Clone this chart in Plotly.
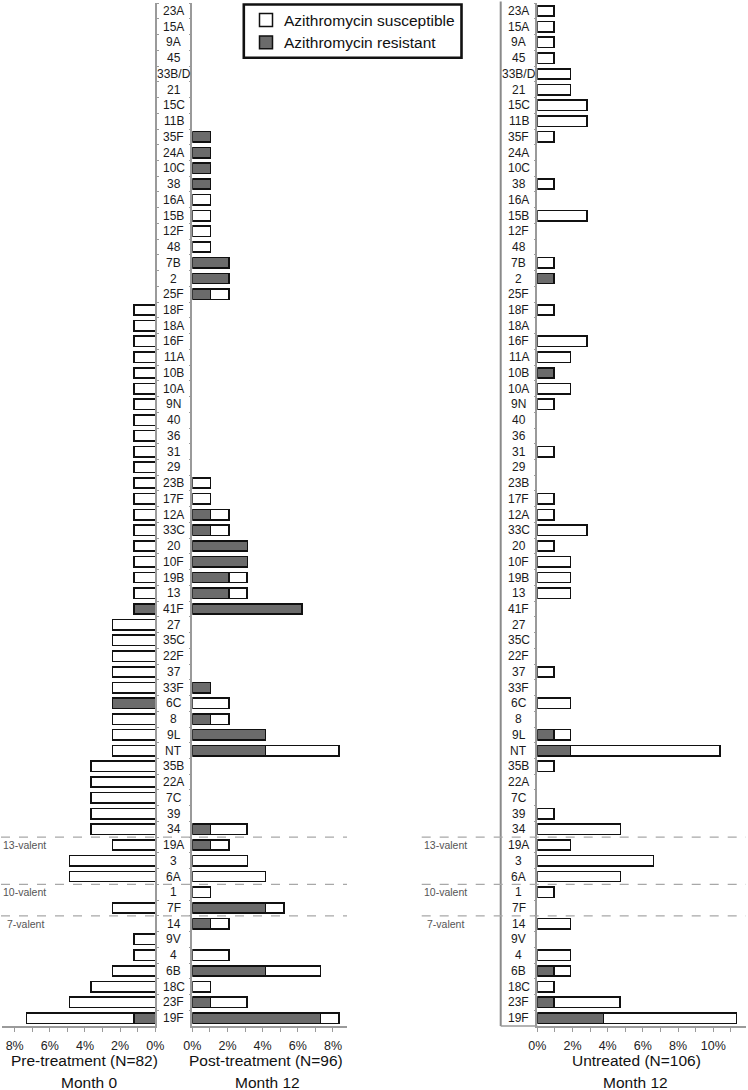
import plotly.graph_objects as go

# ---------------- data ----------------
categories = ["23A", "15A", "9A", "45", "33B/D", "21", "15C", "11B", "35F", "24A",
              "10C", "38", "16A", "15B", "12F", "48", "7B", "2", "25F", "18F",
              "18A", "16F", "11A", "10B", "10A", "9N", "40", "36", "31", "29",
              "23B", "17F", "12A", "33C", "20", "10F", "19B", "13", "41F", "27",
              "35C", "22F", "37", "33F", "6C", "8", "9L", "NT", "35B", "22A",
              "7C", "39", "34", "19A", "3", "6A", "1", "7F", "14", "9V",
              "4", "6B", "18C", "23F", "19F"]

# Pre-treatment, Month 0 (N=82), % of isolates
pre_resistant = [0, 0, 0, 0, 0, 0, 0, 0, 0, 0,
                 0, 0, 0, 0, 0, 0, 0, 0, 0, 0,
                 0, 0, 0, 0, 0, 0, 0, 0, 0, 0,
                 0, 0, 0, 0, 0, 0, 0, 0, 1.22, 0,
                 0, 0, 0, 0, 2.44, 0, 0, 0, 0, 0,
                 0, 0, 0, 0, 0, 0, 0, 0, 0, 0,
                 0, 0, 0, 0, 1.22]
pre_susceptible = [0, 0, 0, 0, 0, 0, 0, 0, 0, 0,
                   0, 0, 0, 0, 0, 0, 0, 0, 0, 1.22,
                   1.22, 1.22, 1.22, 1.22, 1.22, 1.22, 1.22, 1.22, 1.22, 1.22,
                   1.22, 1.22, 1.22, 1.22, 1.22, 1.22, 1.22, 1.22, 0, 2.44,
                   2.44, 2.44, 2.44, 2.44, 0, 2.44, 2.44, 2.44, 3.66, 3.66,
                   3.66, 3.66, 3.66, 2.44, 4.88, 4.88, 0, 2.44, 0, 1.22,
                   1.22, 2.44, 3.66, 4.88, 6.10]

# Post-treatment, Month 12 (N=96)
post_resistant = [0, 0, 0, 0, 0, 0, 0, 0, 1.04, 1.04,
                  1.04, 1.04, 0, 0, 0, 0, 2.08, 2.08, 1.04, 0,
                  0, 0, 0, 0, 0, 0, 0, 0, 0, 0,
                  0, 0, 1.04, 1.04, 3.13, 3.13, 2.08, 2.08, 6.25, 0,
                  0, 0, 0, 1.04, 0, 1.04, 4.17, 4.17, 0, 0,
                  0, 0, 1.04, 1.04, 0, 0, 0, 4.17, 1.04, 0,
                  0, 4.17, 0, 1.04, 7.29]
post_susceptible = [0, 0, 0, 0, 0, 0, 0, 0, 0, 0,
                    0, 0, 1.04, 1.04, 1.04, 1.04, 0, 0, 1.04, 0,
                    0, 0, 0, 0, 0, 0, 0, 0, 0, 0,
                    1.04, 1.04, 1.04, 1.04, 0, 0, 1.04, 1.04, 0, 0,
                    0, 0, 0, 0, 2.08, 1.04, 0, 4.17, 0, 0,
                    0, 0, 2.08, 1.04, 3.13, 4.17, 1.04, 1.04, 1.04, 0,
                    2.08, 3.13, 1.04, 2.08, 1.04]

# Untreated, Month 12 (N=106)
untreated_resistant = [0, 0, 0, 0, 0, 0, 0, 0, 0, 0,
                       0, 0, 0, 0, 0, 0, 0, 0.94, 0, 0,
                       0, 0, 0, 0.94, 0, 0, 0, 0, 0, 0,
                       0, 0, 0, 0, 0, 0, 0, 0, 0, 0,
                       0, 0, 0, 0, 0, 0, 0.94, 1.89, 0, 0,
                       0, 0, 0, 0, 0, 0, 0, 0, 0, 0,
                       0, 0.94, 0, 0.94, 3.77]
untreated_susceptible = [0.94, 0.94, 0.94, 0.94, 1.89, 1.89, 2.83, 2.83, 0.94, 0,
                         0, 0.94, 0, 2.83, 0, 0, 0.94, 0, 0, 0.94,
                         0, 2.83, 1.89, 0, 1.89, 0.94, 0, 0, 0.94, 0,
                         0, 0.94, 0.94, 2.83, 0.94, 1.89, 1.89, 1.89, 0, 0,
                         0, 0, 0.94, 0, 1.89, 0, 0.94, 8.49, 0.94, 0,
                         0, 0.94, 4.72, 1.89, 6.60, 4.72, 0.94, 0, 1.89, 0,
                         1.89, 0.94, 0.94, 3.77, 7.55]

tick_vals_8 = [0, 2, 4, 6, 8]
tick_text_8 = ["0%", "2%", "4%", "6%", "8%"]
tick_vals_10 = [0, 2, 4, 6, 8, 10]
tick_text_10 = ["0%", "2%", "4%", "6%", "8%", "10%"]
minor_vals = [1, 3, 5, 7, 9, 11]

legend_labels = ["Azithromycin susceptible", "Azithromycin resistant"]

valency_labels = ["13-valent", "10-valent", "7-valent"]
valency_first_serotype = ["19A", "1", "14"]

panel_titles = ["Pre-treatment (N=82)", "Post-treatment (N=96)", "Untreated (N=106)"]
panel_months = ["Month 0", "Month 12", "Month 12"]

# ---------------- layout helpers ----------------
W, H = 748, 1090
FONT = "Arial, Liberation Sans, sans-serif"
RES_COLOR = "#6b6b6b"
SUS_COLOR = "#ffffff"
AX_COLOR = "#9a9a9a"
EDGE = "#111111"


def px(x):
    return x / W


def py(y):
    return 1 - y / H


Y_TOP, Y_BOT = 3.1, 1026.0
ydom = [py(Y_BOT), py(Y_TOP)]
n = len(categories)


def nz(vals):
    return [v if v else None for v in vals]


fig = go.Figure()

panels = [
    ("x", "y", pre_resistant, pre_susceptible),
    ("x2", "y2", post_resistant, post_susceptible),
    ("x3", "y3", untreated_resistant, untreated_susceptible),
]
for xa, ya, res, sus in panels:
    fig.add_trace(go.Bar(
        y=categories, x=nz(res), orientation="h", xaxis=xa, yaxis=ya,
        name=legend_labels[1], showlegend=False,
        marker=dict(color=RES_COLOR, line=dict(color=EDGE, width=1.6)),
        hoverinfo="x+y",
    ))
    fig.add_trace(go.Bar(
        y=categories, x=nz(sus), orientation="h", xaxis=xa, yaxis=ya,
        name=legend_labels[0], showlegend=False,
        marker=dict(color=SUS_COLOR, line=dict(color=EDGE, width=1.6)),
        hoverinfo="x+y",
    ))

xcommon = dict(
    showgrid=False, zeroline=False, showline=True, linecolor=AX_COLOR, linewidth=1.5,
    ticks="outside", ticklen=4, tickcolor=AX_COLOR, tickwidth=1,
    tickfont=dict(family=FONT, size=12.5, color="#222222"),
    ticklabelstandoff=3, automargin=False,
    fixedrange=True,
)
ycommon = dict(
    type="category", categoryorder="array", categoryarray=categories,
    range=[n - 0.5, -0.5], domain=ydom, showgrid=False, zeroline=False,
    showline=True, linecolor=AX_COLOR, linewidth=1.5, showticklabels=False,
    ticks="outside", ticklen=2, tickcolor=AX_COLOR, tickson="boundaries",
    automargin=False, fixedrange=True,
)
minor = dict(tickvals=minor_vals, ticks="outside", ticklen=4, tickcolor=AX_COLOR)

fig.update_layout(
    width=W, height=H, autosize=False,
    margin=dict(l=0, r=0, t=0, b=0, pad=0, autoexpand=False),
    paper_bgcolor="white", plot_bgcolor="white",
    barmode="stack", bargap=0.34,
    font=dict(family=FONT, color="#222222"),
    showlegend=False,
    xaxis=dict(domain=[px(2), px(155.3)], range=[8.72, 0], anchor="y",
               tickvals=tick_vals_8, ticktext=tick_text_8, minor=minor, **xcommon),
    xaxis2=dict(domain=[px(192.3), px(346.7)], range=[0, 8.78], anchor="y2",
                tickvals=tick_vals_8, ticktext=tick_text_8, minor=minor, **xcommon),
    xaxis3=dict(domain=[px(537.3), px(746)], range=[0, 11.86], anchor="y3",
                tickvals=tick_vals_10, ticktext=tick_text_10, minor=minor, **xcommon),
    yaxis=dict(anchor="x", side="right", **ycommon),
    yaxis2=dict(anchor="x2", side="left", **ycommon),
    yaxis3=dict(anchor="x3", side="left", **ycommon),
)

# serotype labels in the two label columns (positioned by category index)
for idx, cat in enumerate(categories):
    for xc, yref in ((173.7, "y"), (518.5, "y3")):
        fig.add_annotation(
            x=px(xc), xref="paper", y=idx, yref=yref, text=cat, showarrow=False,
            xanchor="center", yanchor="middle",
            font=dict(family=FONT, size=12, color="#1a1a1a"),
        )

# vertical line at left edge of the untreated label column, and its bottom line
fig.add_shape(type="line", xref="paper", yref="paper",
              x0=px(500.7), x1=px(500.7), y0=ydom[0], y1=py(1.5),
              line=dict(color="#8a8a8a", width=2))
fig.add_shape(type="line", xref="paper", yref="paper",
              x0=px(500.7), x1=px(537.3), y0=ydom[0], y1=ydom[0],
              line=dict(color=AX_COLOR, width=1.5))

# vaccine valency separators and labels
for lab, first in zip(valency_labels, valency_first_serotype):
    idx = categories.index(first)
    for x0, x1 in ((px(1), px(347)), (px(421.7), px(746))):
        fig.add_shape(type="line", xref="paper", yref="y", x0=x0, x1=x1,
                      y0=idx - 0.5, y1=idx - 0.5,
                      line=dict(color="#a8a8a8", width=1.2, dash="dash"))
    xoff_l = 5 if lab == "7-valent" else 1
    xoff_r = 425 if lab == "7-valent" else 421.7
    for xl in (xoff_l, xoff_r):
        fig.add_annotation(x=px(xl), xref="paper", y=idx, yref="y", text=lab,
                           showarrow=False, xanchor="left", yanchor="middle",
                           font=dict(family=FONT, size=10.5, color="#555555"))

# panel titles
for title, month, xc, xm in zip(panel_titles, panel_months,
                                (84, 266, 636), (88.5, 267.5, 635)):
    fig.add_annotation(x=px(xc), xref="paper", y=py(1060), yref="paper", text=title,
                       showarrow=False, xanchor="center", yanchor="middle",
                       font=dict(family=FONT, size=15.5, color="#111111"))
    fig.add_annotation(x=px(xm), xref="paper", y=py(1082.5), yref="paper", text=month,
                       showarrow=False, xanchor="center", yanchor="middle",
                       font=dict(family=FONT, size=15.5, color="#111111"))

# legend box (drawn in paper coordinates)
fig.add_shape(type="rect", xref="paper", yref="paper",
              x0=px(243.8), x1=px(461.5), y0=py(57.8), y1=py(4.5),
              line=dict(color=EDGE, width=2.6), fillcolor="white")
for label, fill, yc in zip(legend_labels, (SUS_COLOR, RES_COLOR), (20.0, 42.3)):
    fig.add_shape(type="rect", xref="paper", yref="paper",
                  x0=px(259.5), x1=px(272.5), y0=py(yc + 6.4), y1=py(yc - 6.4),
                  line=dict(color=EDGE, width=1.5), fillcolor=fill)
    fig.add_annotation(x=px(281.5), xref="paper", y=py(yc), yref="paper", text=label,
                       showarrow=False, xanchor="left", yanchor="middle",
                       font=dict(family=FONT, size=15.5, color="#111111"))

fig.write_html("out.html", post_script="document.body.style.margin='0';",
               config={"displayModeBar": False})
